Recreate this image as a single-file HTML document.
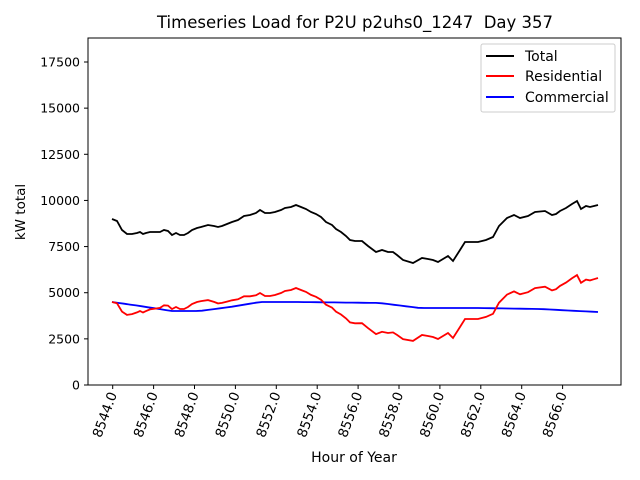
<!DOCTYPE html>
<html><head><meta charset="utf-8"><style>body{margin:0;background:#fff}svg{display:block}</style></head>
<body>
<svg id="s" width="640" height="480" xmlns="http://www.w3.org/2000/svg" font-family="DejaVu Sans, Liberation Sans, sans-serif">
<rect width="640" height="480" fill="#fff"/>
<text x="355" y="28" font-size="16.5" text-anchor="middle" xml:space="preserve">Timeseries Load for P2U p2uhs0_1247  Day 357</text>
<g id="g"></g>
<rect x="88" y="38" width="533" height="347" fill="none" stroke="#000" stroke-width="1"/>
<text x="354" y="462" font-size="14" text-anchor="middle">Hour of Year</text>
<text transform="translate(25,212) rotate(-90)" font-size="13.5" text-anchor="middle">kW total</text>
<rect x="481" y="44" width="134" height="68" fill="#fff" stroke="#ccc" rx="2"/>
<line x1="486" y1="56" x2="514" y2="56" stroke="#000" stroke-width="2"/>
<line x1="486" y1="76" x2="514" y2="76" stroke="#f00" stroke-width="2"/>
<line x1="486" y1="97" x2="514" y2="97" stroke="#00f" stroke-width="2"/>
<text x="525" y="61" font-size="14">Total</text>
<text x="525" y="81" font-size="14">Residential</text>
<text x="525" y="102" font-size="14">Commercial</text>
</svg>
<script>
var g=document.getElementById('g'),h='';
var yl=[0,2500,5000,7500,10000,12500,15000,17500];
yl.forEach(function(v){var y=385-v*0.018457;h+='<line x1="84" y1="'+y+'" x2="88" y2="'+y+'" stroke="#000"/><text x="80" y="'+(y+4.5)+'" font-size="12.5" text-anchor="end">'+v+'</text>';});
for(var i=0;i<12;i++){var x=112.7+i*40.9;h+='<line x1="'+x+'" y1="385" x2="'+x+'" y2="389" stroke="#000"/><text transform="translate('+(x+4.5)+',394) rotate(-70)" font-size="13.5" text-anchor="end">'+(8544+2*i)+'.0</text>';}
var B=[[112,219],[117,221],[122,230],[127,234],[132,234],[137,233],[140,232],[143,234],[146,233],[150,232],[156,232],[160,232],[164,230],[168,231],[172,235],[176,233],[180,235],[184,235],[188,233],[192,230],[197,228],[201,227],[208,225],[214,226],[218,227],[222,226],[227,224],[232,222],[238,220],[244,216],[250,215],[256,213],[260,210],[265,213],[270,213],[275,212],[281,210],[285,208],[291,207],[296,205],[301,207],[306,209],[311,212],[316,214],[321,217],[326,222],[332,225],[336,229],[341,232],[346,236],[350,240],[355,241],[362,241],[368,246],[376,252],[382,250],[388,252],[393,252],[397,255],[403,260],[413,263],[422,258],[428,259],[433,260],[438,262],[448,256],[453,261],[460,250],[465,242],[470,242],[478,242],[486,240],[493,237],[499,226],[507,218],[514,215],[520,218],[528,216],[535,212],[545,211],[552,215],[556,214],[560,211],[566,208],[572,204],[577,201],[581,209],[586,206],[590,207],[594,206],[598,205]];
var C=[[112,302],[140,306],[172,311],[200,311],[230,307],[260,302],[300,302],[380,303],[420,308],[480,308],[540,309],[597,312]];
function cy(x){for(var i=0;i<C.length-1;i++){if(x<=C[i+1][0]){var t=(x-C[i][0])/(C[i+1][0]-C[i][0]);return C[i][1]+t*(C[i+1][1]-C[i][1]);}}return C[C.length-1][1];}
var pb='',pr='',pc='';
B.forEach(function(p){var c=cy(p[0]);pb+=p[0]+','+p[1]+' ';pr+=p[0]+','+(p[1]-c+385).toFixed(1)+' ';});
for(var x=112;x<=598;x+=6){pc+=x+','+cy(x).toFixed(1)+' ';}
h+='<polyline points="'+pc+'" fill="none" stroke="#00f" stroke-width="1.8"/>';
h+='<polyline points="'+pr+'" fill="none" stroke="#f00" stroke-width="1.8"/>';
h+='<polyline points="'+pb+'" fill="none" stroke="#000" stroke-width="1.8"/>';
g.innerHTML=h;
</script>
</body></html>
